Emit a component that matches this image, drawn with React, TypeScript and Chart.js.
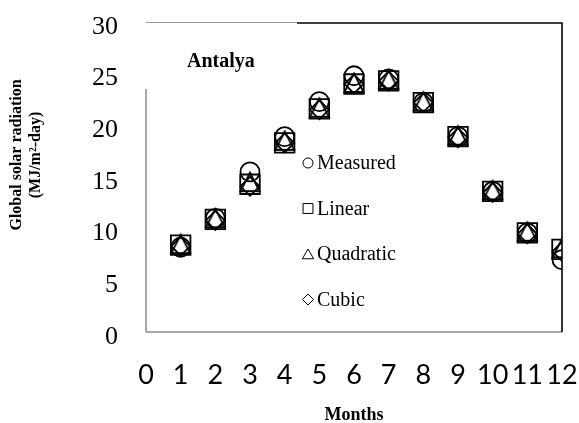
import React, { useEffect, useRef } from 'react';
import { Chart, registerables } from 'chart.js';
import { drawPoint } from 'chart.js/helpers';

Chart.register(...registerables);

const months = [1, 2, 3, 4, 5, 6, 7, 8, 9, 10, 11, 12];
const measured = [8.2, 11.0, 15.5, 18.9, 22.3, 24.8, 24.5, 22.2, 18.9, 13.6, 9.6, 7.0];
const linear = [8.4, 10.9, 14.3, 18.3, 21.6, 24.0, 24.3, 22.2, 18.9, 13.6, 9.6, 8.0];
const quadratic = [8.5, 11.0, 14.5, 18.5, 21.7, 24.1, 24.4, 22.3, 19.0, 13.7, 9.7, 8.1];
const cubic = [8.3, 10.8, 14.1, 18.3, 21.5, 24.0, 24.3, 22.2, 18.8, 13.5, 9.5, 7.8];

const seriesNames = ['Measured', 'Linear', 'Quadratic', 'Cubic'];
const seriesStyles = ['circle', 'rect', 'triangle', 'rectRot'];
const stationName = 'Antalya';
const xTitle = 'Months';
const yTitleLines = ['Global solar radiation', '(MJ/m\u00B2-day)'];
const xMin = 0;
const xMax = 12;
const yMin = 0;
const yMax = 30;

const SERIF = '"Liberation Serif", "Times New Roman", serif';
const SANS = 'Lato, "Open Sans", sans-serif';

const zeroPad = (s: any) => {
  s.paddingTop = 0;
  s.paddingBottom = 0;
  s.paddingLeft = 0;
  s.paddingRight = 0;
};

// Excel-like triangle marker: apex at top of its box, base at bottom
const makeTriangle = () => {
  const c = document.createElement('canvas');
  c.width = 24;
  c.height = 24;
  const g = c.getContext('2d')!;
  g.strokeStyle = '#000';
  g.lineWidth = 1.8;
  g.lineJoin = 'miter';
  g.beginPath();
  g.moveTo(12, 2.5);
  g.lineTo(21.5, 21);
  g.lineTo(2.5, 21);
  g.closePath();
  g.stroke();
  return c;
};

const decor = {
  id: 'decor',
  beforeDatasetsDraw(chart: any) {
    const { ctx, chartArea: a } = chart;
    const boxRight = a.left + (a.right - a.left) * 0.363;
    const boxBottom = a.top + (a.bottom - a.top) * 0.216;
    ctx.save();
    ctx.lineCap = 'butt';
    ctx.strokeStyle = '#8a8a8a';
    ctx.lineWidth = 1.5;
    ctx.beginPath();
    ctx.moveTo(a.left, a.bottom);
    ctx.lineTo(a.right, a.bottom);
    ctx.moveTo(a.left, a.bottom);
    ctx.lineTo(a.left, boxBottom);
    ctx.stroke();
    ctx.lineWidth = 1;
    ctx.strokeStyle = '#9a9a9a';
    ctx.beginPath();
    ctx.moveTo(a.left, a.top + 0.5);
    ctx.lineTo(boxRight, a.top + 0.5);
    ctx.stroke();
    ctx.strokeStyle = '#000';
    ctx.lineWidth = 1.6;
    ctx.beginPath();
    ctx.moveTo(boxRight, a.top + 1);
    ctx.lineTo(a.right, a.top + 1);
    ctx.lineTo(a.right, a.bottom);
    ctx.stroke();
    ctx.fillStyle = '#000';
    ctx.font = 'bold 20px ' + SERIF;
    ctx.textAlign = 'left';
    ctx.textBaseline = 'middle';
    ctx.fillText(stationName, a.left + 41, a.top + 40);
    ctx.restore();
  },
  afterDraw(chart: any) {
    const { ctx, chartArea: a } = chart;
    ctx.save();
    const lx = a.left + 162;
    const ly = a.top + 141;
    const gap = 45.5;
    const legendRadius = [5, 7, 6.5, 5.5];
    seriesNames.forEach((name, i) => {
      const y = ly + i * gap;
      ctx.strokeStyle = '#000';
      ctx.fillStyle = '#fff';
      drawPoint(ctx, { pointStyle: seriesStyles[i], radius: legendRadius[i], borderWidth: 1.5, rotation: 0 } as any, lx, y + (i === 2 ? 1.5 : 0));
      ctx.fillStyle = '#000';
      ctx.font = '20px ' + SERIF;
      ctx.textAlign = 'left';
      ctx.textBaseline = 'middle';
      ctx.fillText(name, lx + 9, y + 1);
    });
    ctx.font = 'bold 18px ' + SERIF;
    ctx.textAlign = 'center';
    ctx.textBaseline = 'middle';
    ctx.fillText(xTitle, (a.left + a.right) / 2, 415);
    ctx.translate(0, 155);
    ctx.rotate(-Math.PI / 2);
    ctx.font = 'bold 16px ' + SERIF;
    ctx.fillText(yTitleLines[0], 0, 17);
    ctx.fillText(yTitleLines[1], 0, 36);
    ctx.restore();
  },
};

export default function App() {
  const ref = useRef<HTMLCanvasElement>(null);
  useEffect(() => {
    if (!ref.current) return;
    const mk = (data: number[]) => months.map((m, i) => ({ x: m, y: data[i] }));
    const common = {
      showLine: false,
      borderColor: '#000',
      backgroundColor: 'rgba(0,0,0,0)',
      borderWidth: 1.8,
    };
    const tri = makeTriangle();
    const chart = new Chart(ref.current, {
      type: 'scatter',
      data: {
        datasets: [
          { ...common, label: seriesNames[0], data: mk(measured), pointStyle: 'circle', pointRadius: 9.5 },
          { ...common, label: seriesNames[1], data: mk(linear), pointStyle: 'rect', pointRadius: 13.8 },
          { ...common, label: seriesNames[2], data: mk(quadratic), pointStyle: tri, pointRadius: 11 },
          { ...common, label: seriesNames[3], data: mk(cubic), pointStyle: 'rectRot', pointRadius: 9.5 },
        ],
      },
      options: {
        animation: false,
        responsive: false,
        layout: { padding: { top: 22, right: 17, left: 0, bottom: 0 } },
        plugins: { legend: { display: false }, tooltip: { enabled: false } },
        scales: {
          x: {
            type: 'linear',
            min: xMin,
            max: xMax,
            grid: { display: false, drawTicks: false },
            border: { display: false },
            ticks: { stepSize: 1, color: '#000', font: { family: SANS, size: 27 }, padding: 27, maxRotation: 0, autoSkip: false },
            afterFit: (s: any) => { s.height = 91; zeroPad(s); },
          },
          y: {
            type: 'linear',
            min: yMin,
            max: yMax,
            grid: { display: false, drawTicks: false },
            border: { display: false },
            ticks: { stepSize: 5, color: '#000', font: { family: SERIF, size: 26 }, padding: 28, labelOffset: 5 },
            afterFit: (s: any) => { s.width = 146; zeroPad(s); },
          },
        },
      },
      plugins: [decor],
    } as any);
    return () => chart.destroy();
  }, []);
  return (
    <div style={{ position: 'fixed', left: 0, top: 0, width: 579, height: 423, background: '#fff' }}>
      <canvas ref={ref} width={579} height={423} style={{ width: 579, height: 423 }} />
    </div>
  );
}
